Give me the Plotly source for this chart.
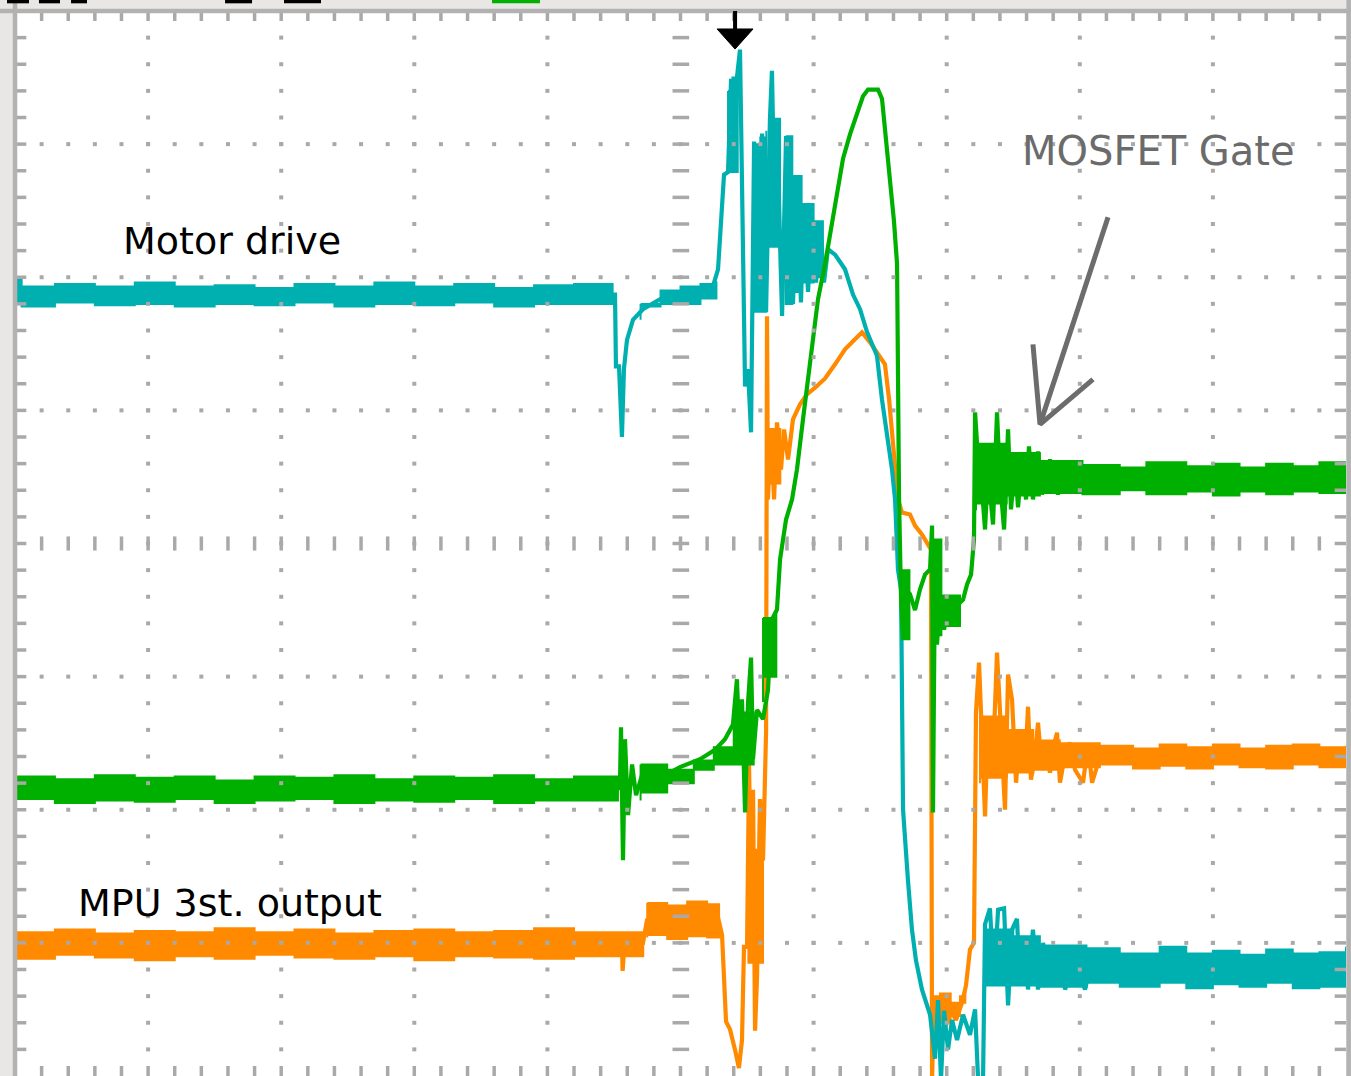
import plotly.graph_objects as go

# ---------------- data (time in divisions, voltage in divisions) ----------------
cyan_t = [0, 4.49, 4.508, 4.515, 4.538, 4.56, 4.575, 4.598, 4.643, 4.718, 4.846, 5.07, 5.237, 5.282,
          5.327, 5.357, 5.38, 5.41, 5.424, 5.447, 5.462, 5.485, 5.507, 5.53, 5.553, 5.583, 5.613,
          5.643, 5.672, 5.687, 5.703, 5.725, 5.748, 5.763, 5.793, 5.823, 5.845, 5.875, 5.905, 5.928,
          5.958, 5.988, 6.018, 6.048, 6.078, 6.108, 6.161, 6.236, 6.296, 6.349, 6.401, 6.476, 6.514,
          6.552, 6.589, 6.612, 6.634, 6.657, 6.672, 6.709, 6.739, 6.769, 6.814, 6.875, 6.912, 6.935,
          6.957, 6.98, 7.01, 7.04, 7.078, 7.123, 7.175, 7.213, 7.236, 7.273, 7.288, 7.325, 7.355,
          7.386, 7.431, 7.461, 7.491, 7.528, 7.551, 7.588, 7.611, 7.648, 7.686, 7.724, 7.776, 7.851,
          7.889, 7.964, 8.039, 8.077, 10]
cyan_v = [1.87, 1.87, 1.87, 1.33, 1.33, 0.80, 1.31, 1.53, 1.68, 1.76, 1.835, 1.87, 1.91, 2.06,
          2.77, 2.79, 3.49, 2.96, 3.50, 3.71, 2.74, 1.18, 1.31, 0.835, 3.02, 1.76, 3.08,
          1.74, 3.19, 3.55, 2.74, 3.19, 2.25, 1.71, 3.06, 2.74, 1.80, 2.74, 1.81, 2.55,
          1.89, 2.42, 1.96, 2.42, 1.96, 2.21, 2.17, 2.06, 1.87, 1.76, 1.59, 1.41, 1.08,
          0.835, 0.556, 0.331, -0.195, -0.346, -2.0, -2.53, -2.90, -3.13, -3.35, -3.54, -3.87, -3.43,
          -4.03, -3.51, -3.80, -3.58, -3.73, -3.54, -3.69, -3.50, -4.03, -4.03, -2.86, -2.74, -3.30,
          -2.75, -2.74, -3.47, -2.90, -2.82, -3.32, -3.00, -3.35, -2.90, -3.35, -3.00, -3.32, -3.02,
          -3.35, -3.13, -3.35, -3.19, -3.19]

green_t = [0, 4.53, 4.545, 4.553, 4.568, 4.583, 4.606, 4.636, 4.666, 4.711, 4.846, 4.996, 5.147,
           5.259, 5.334, 5.394, 5.424, 5.447, 5.462, 5.485, 5.507, 5.53, 5.545, 5.575, 5.62, 5.657,
           5.687, 5.725, 5.748, 5.793, 5.838, 5.875, 5.92, 5.958, 5.996, 6.033, 6.086, 6.138, 6.183,
           6.221, 6.274, 6.326, 6.371, 6.409, 6.484, 6.514, 6.536, 6.574, 6.604, 6.627, 6.642, 6.657,
           6.672, 6.694, 6.724, 6.762, 6.799, 6.837, 6.875, 6.89, 6.897, 6.912, 6.927, 6.95, 6.98,
           7.01, 7.047, 7.085, 7.123, 7.153, 7.183, 7.205, 7.213, 7.236, 7.265, 7.288, 7.31, 7.348,
           7.378, 7.40, 7.431, 7.461, 7.483, 7.513, 7.536, 7.566, 7.596, 7.618, 7.648, 7.686, 7.716,
           7.776, 7.836, 7.896, 7.964, 8.024, 10]
green_v = [-1.84, -1.84, -1.81, -1.38, -2.38, -1.47, -2.04, -1.66, -1.89, -1.74, -1.76, -1.68, -1.62,
           -1.55, -1.47, -1.36, -1.02, -1.62, -1.17, -2.02, -1.20, -0.857, -1.62, -1.25, -1.32, -1.10,
           -0.571, -0.496, -0.12, 0.18, 0.331, 0.556, 0.93, 1.23, 1.50, 1.835, 2.10, 2.40, 2.66,
           2.89, 3.075, 3.24, 3.36, 3.41, 3.41, 3.34, 3.11, 2.74, 2.42, 2.10, 0.331, -0.42,
           -0.72, -0.346, -0.38, -0.50, -0.346, -0.233, -0.195, 0.135, -2.02, -0.12, -0.76, -0.42, -0.647,
           -0.459, -0.609, -0.459, -0.421, -0.308, -0.233, 0.03, 0.985, 0.63, 0.41, 0.105, 0.556, 0.143,
           0.985, 0.481, 0.105, 0.857, 0.256, 0.594, 0.271, 0.632, 0.331, 0.729, 0.331, 0.692, 0.368,
           0.632, 0.368, 0.594, 0.406, 0.496, 0.48]

orange_t = [0, 4.55, 4.56, 4.565, 4.58, 4.718, 4.748, 4.846, 5.07, 5.282, 5.312, 5.342, 5.372, 5.409,
            5.439, 5.462, 5.477, 5.50, 5.515, 5.53, 5.545, 5.56, 5.575, 5.597, 5.62, 5.643, 5.65,
            5.657, 5.68, 5.703, 5.725, 5.755, 5.778, 5.808, 5.845, 5.898, 5.95, 6.011, 6.086, 6.161,
            6.236, 6.311, 6.364, 6.424, 6.484, 6.536, 6.567, 6.589, 6.612, 6.634, 6.664, 6.724, 6.762,
            6.814, 6.86, 6.882, 6.89, 6.905, 6.935, 6.965, 6.995, 7.025, 7.07, 7.115, 7.145, 7.175,
            7.205, 7.22, 7.243, 7.265, 7.288, 7.31, 7.348, 7.378, 7.408, 7.438, 7.461, 7.491, 7.521,
            7.551, 7.588, 7.611, 7.633, 7.663, 7.686, 7.716, 7.746, 7.776, 7.806, 7.829, 7.851, 7.896,
            7.926, 7.964, 8.024, 8.062, 8.092, 8.152, 10]
orange_v = [-3.0, -3.0, -3.0, -3.21, -3.0, -3.0, -2.83, -2.81, -2.79, -2.81, -2.94, -3.59, -3.65, -3.80,
            -3.94, -3.73, -3.03, -3.03, -1.662, -2.68, -1.85, -3.66, -3.26, -1.92, -2.38, -1.41, 1.707,
            0.331, 0.857, 0.331, 0.91, 0.556, 0.857, 0.632, 0.932, 1.045, 1.12, 1.17, 1.24, 1.346,
            1.459, 1.534, 1.586, 1.511, 1.421, 1.346, 1.083, 0.857, 0.556, 0.331, 0.233, 0.218, 0.135,
            0.068, -0.008, -0.045, -4.03, -3.43, -3.65, -3.39, -3.62, -3.50, -3.58, -3.45, -3.32, -3.05,
            -3.0, -1.27, -0.895, -1.47, -2.05, -1.32, -1.62, -0.82, -1.47, -2.0, -0.985, -1.173, -1.797,
            -1.40, -1.70, -1.226, -1.774, -1.60, -1.346, -1.70, -1.55, -1.722, -1.511, -1.421, -1.797, -1.549,
            -1.496, -1.70, -1.797, -1.511, -1.797, -1.60, -1.60]

# noise envelopes (upper / lower edge of the thick trace band), segments separated by None
cyan_band_t = [0, 0.05, 0.3, 0.6, 0.9, 1.2, 1.5, 1.8, 2.1, 2.4, 2.7, 3.0, 3.3, 3.6, 3.9, 4.2, 4.49, None,
               4.70, 4.85, 5.0, 5.15, 5.27, None,
               5.357, 5.39, 5.43, None,
               5.545, 5.60, 5.645, None,
               5.672, 5.748, None,
               5.79, 5.84, 5.91, 6.0, 6.07, None,
               7.29, 7.5, 7.7, 8.05, None,
               8.05, 8.3, 8.6, 8.8, 9.0, 9.2, 9.4, 9.6, 9.8, 10.0]
cyan_band_hi = [1.99, 1.93, 1.95, 1.93, 1.96, 1.93, 1.94, 1.92, 1.95, 1.93, 1.96, 1.93, 1.95, 1.92, 1.94, 1.95, 1.93, None,
                1.80, 1.90, 1.93, 1.95, 1.97, None,
                3.40, 3.50, 3.50, None,
                3.00, 3.05, 3.10, None,
                3.19, 3.19, None,
                3.06, 2.76, 2.55, 2.42, 2.40, None,
                -2.90, -2.95, -3.02, -3.06, None,
                -3.04, -3.08, -3.03, -3.08, -3.06, -3.09, -3.05, -3.08, -3.07, -3.03]
cyan_band_lo = [1.80, 1.80, 1.78, 1.81, 1.79, 1.80, 1.78, 1.80, 1.79, 1.81, 1.78, 1.80, 1.79, 1.81, 1.78, 1.80, 1.80, None,
                1.68, 1.78, 1.80, 1.80, 1.84, None,
                2.79, 2.79, 2.79, None,
                1.74, 1.74, 1.74, None,
                2.23, 2.23, None,
                2.19, 1.80, 1.89, 1.96, 2.00, None,
                -3.30, -3.32, -3.32, -3.33, None,
                -3.34, -3.30, -3.33, -3.30, -3.34, -3.31, -3.33, -3.30, -3.34, -3.33]

green_band_t = [0, 0.3, 0.6, 0.9, 1.2, 1.5, 1.8, 2.1, 2.4, 2.7, 3.0, 3.3, 3.6, 3.9, 4.2, 4.53, None,
                4.70, 4.9, 5.1, 5.25, 5.40, 5.55, None,
                5.62, 5.72, None,
                6.665, 6.72, None,
                6.90, 6.96, 7.10, None,
                7.22, 7.45, 7.7, 8.02, None,
                8.02, 8.3, 8.5, 8.8, 9.0, 9.2, 9.4, 9.6, 9.8, 10.0]
green_band_hi = [-1.75, -1.77, -1.74, -1.76, -1.75, -1.78, -1.75, -1.76, -1.74, -1.77, -1.75, -1.76, -1.74, -1.77, -1.75, -1.76, None,
                 -1.66, -1.70, -1.63, -1.53, -1.27, -1.27, None,
                 -0.56, -0.50, None,
                 -0.20, -0.30, None,
                 0.03, -0.39, -0.42, None,
                 0.75, 0.68, 0.62, 0.60, None,
                 0.59, 0.57, 0.61, 0.58, 0.60, 0.57, 0.60, 0.58, 0.61, 0.59]
green_band_lo = [-1.94, -1.92, -1.95, -1.93, -1.94, -1.92, -1.95, -1.93, -1.92, -1.95, -1.93, -1.94, -1.92, -1.95, -1.93, -1.93, None,
                 -1.93, -1.87, -1.80, -1.70, -1.66, -1.66, None,
                 -1.19, -1.00, None,
                 -0.72, -0.72, None,
                 -0.80, -0.69, -0.62, None,
                 0.25, 0.30, 0.36, 0.38, None,
                 0.39, 0.37, 0.40, 0.37, 0.39, 0.36, 0.39, 0.37, 0.39, 0.38]

orange_band_t = [0, 0.3, 0.6, 0.9, 1.2, 1.5, 1.8, 2.1, 2.4, 2.7, 3.0, 3.3, 3.6, 3.9, 4.2, 4.72, None,
                 4.75, 4.9, 5.05, 5.2, 5.29, None,
                 5.51, 5.62, None,
                 5.657, 5.75, None,
                 6.895, 6.95, 7.03, 7.10, 7.14, None,
                 7.25, 7.45, 7.65, 7.85, 8.15, None,
                 8.15, 8.4, 8.6, 8.8, 9.0, 9.2, 9.4, 9.6, 9.8, 10.0]
orange_band_hi = [-2.92, -2.90, -2.93, -2.91, -2.92, -2.89, -2.92, -2.90, -2.93, -2.91, -2.90, -2.92, -2.91, -2.89, -2.92, -2.92, None,
                  -2.70, -2.72, -2.69, -2.71, -2.72, None,
                  -2.30, -2.30, None,
                  0.86, 0.86, None,
                  -3.40, -3.38, -3.45, -3.40, -3.30, None,
                  -1.30, -1.40, -1.48, -1.50, -1.53, None,
                  -1.52, -1.54, -1.51, -1.53, -1.51, -1.54, -1.52, -1.51, -1.53, -1.52]
orange_band_lo = [-3.10, -3.12, -3.09, -3.11, -3.13, -3.10, -3.12, -3.09, -3.11, -3.12, -3.10, -3.13, -3.10, -3.11, -3.12, -3.10, None,
                  -2.96, -2.94, -2.97, -2.95, -2.96, None,
                  -3.15, -3.15, None,
                  0.33, 0.45, None,
                  -3.70, -3.66, -3.60, -3.55, -3.45, None,
                  -1.80, -1.76, -1.72, -1.70, -1.68, None,
                  -1.68, -1.66, -1.69, -1.67, -1.69, -1.66, -1.68, -1.69, -1.66, -1.68]

# channel ground markers, trigger position, labels
marker_levels = {"green": -2.04, "orange": -3.0}
trigger_t = 5.41
arrow_t = [8.212, 7.701, None, 7.648, 7.701, 8.099]
arrow_v = [2.451, 0.895, None, 1.496, 0.895, 1.233]
labels = ["Motor drive", "MPU 3st. output", "MOSFET Gate"]
label_t = [0.80, 0.46, 7.55]
label_v = [2.27, -2.70, 2.95]

CYAN = "#00b0b0"
GREEN = "#00b000"
ORANGE = "#ff8a00"
GRID = "#a9a9a9"
LABEL_FONT = "DejaVu Sans ExtraLight, DejaVu Sans, sans-serif"


def band_polygon(t, hi, lo):
    xs, ys = [], []
    st, sh, sl = [], [], []
    for a, b, c in zip(list(t) + [None], list(hi) + [None], list(lo) + [None]):
        if a is None:
            if st:
                xs += st + st[::-1] + [st[0], None]
                ys += sh + sl[::-1] + [sh[0], None]
            st, sh, sl = [], [], []
        else:
            st.append(a); sh.append(b); sl.append(c)
    return xs, ys


fig = go.Figure()

channels = [
    (orange_t, orange_v, orange_band_t, orange_band_hi, orange_band_lo, ORANGE),
    (cyan_t, cyan_v, cyan_band_t, cyan_band_hi, cyan_band_lo, CYAN),
    (green_t, green_v, green_band_t, green_band_hi, green_band_lo, GREEN),
]
for t, v, bt, bh, bl, col in channels:
    px, py = band_polygon(bt, bh, bl)
    fig.add_trace(go.Scatter(x=px, y=py, mode="lines", fill="toself", fillcolor=col,
                             line=dict(color=col, width=2, shape="hv"), hoverinfo="skip"))
    fig.add_trace(go.Scatter(x=t, y=v, mode="lines", line=dict(color=col, width=4.2),
                             hoverinfo="skip"))

# ---------------- graticule (drawn over the traces, like the scope) ----------------
step = 0.2
dots_x, dots_y = [], []
for gx in [1, 2, 3, 4, 6, 7, 8, 9]:
    for k in range(1, 40):
        dots_x.append(gx); dots_y.append(-4 + step * k)
for gy in [-3, -2, -1, 1, 2, 3]:
    for k in range(1, 50):
        dots_x.append(step * k); dots_y.append(gy)
fig.add_trace(go.Scatter(x=dots_x, y=dots_y, mode="markers",
                         marker=dict(symbol="square", size=4, color=GRID, line=dict(width=0)),
                         hoverinfo="skip"))

tk_x, tk_y = [], []
for k in range(1, 50):  # ticks on horizontal centre line, top and bottom edge
    x = step * k
    tk_x += [x, x, None]; tk_y += [-0.053, 0.053, None]
    tk_x += [x, x, None]; tk_y += [4.0, 3.925, None]
    tk_x += [x, x, None]; tk_y += [-4.0, -3.925, None]
for k in range(1, 40):  # ticks on vertical centre line, left and right edge
    y = -4 + step * k
    tk_x += [4.94, 5.065, None]; tk_y += [y, y, None]
    tk_x += [0.0, 0.085, None]; tk_y += [y, y, None]
    tk_x += [9.915, 10.0, None]; tk_y += [y, y, None]
fig.add_trace(go.Scatter(x=tk_x, y=tk_y, mode="lines", line=dict(color=GRID, width=3.5),
                         hoverinfo="skip"))

# channel markers at the left edge
fig.add_trace(go.Scatter(x=[-0.07, -0.07], y=[marker_levels["green"], marker_levels["orange"]],
                         mode="markers", cliponaxis=False,
                         marker=dict(symbol="triangle-right", size=13, color=[GREEN, ORANGE]),
                         hoverinfo="skip"))

# MOSFET gate pointer (hand drawn arrow)
fig.add_trace(go.Scatter(x=arrow_t, y=arrow_v, mode="lines",
                         line=dict(color="#6c6c6c", width=5), hoverinfo="skip"))

shapes = []
# frame
for x0, y0, x1, y1 in [(0, 0, 0, 1.012), (-0.012, 1, 1.004, 1), (1.002, 0, 1.002, 1.012)]:
    shapes.append(dict(type="line", xref="paper", yref="paper", x0=x0, y0=y0, x1=x1, y1=y1,
                       line=dict(color="#b2b2b2", width=4.5)))
# trigger marker
shapes.append(dict(type="line", xref="x", yref="y", x0=trigger_t, x1=trigger_t, y0=4.0, y1=3.84,
                   line=dict(color="black", width=4)))
shapes.append(dict(type="path", xref="x", yref="y",
                   path=f"M {trigger_t-0.135},3.865 L {trigger_t+0.135},3.865 L {trigger_t},3.714 Z",
                   fillcolor="black", line=dict(color="black", width=1)))
# clipped header fragments at the very top
for x0, x1, col in [(-0.006, 0.0105, "black"), (0.018, 0.0338, "black"), (0.0421, 0.0541, "black"),
                    (0.1578, 0.1781, "black"), (0.2021, 0.2299, "black"), (0.3584, 0.3944, GREEN)]:
    shapes.append(dict(type="rect", xref="paper", yref="paper", x0=x0, x1=x1, y0=1.0072, y1=1.011,
                       fillcolor=col, line=dict(width=0)))

annotations = []
for txt, tx, ty, col, sz in zip(labels, label_t, label_v, ["black", "black", "#6b6b6b"], [38, 38, 40]):
    annotations.append(dict(x=tx, y=ty, xref="x", yref="y", text=txt, showarrow=False,
                            xanchor="left", yanchor="middle",
                            font=dict(family=LABEL_FONT, size=sz, color=col)))

fig.update_layout(
    width=1351, height=1076,
    margin=dict(l=15, r=5, t=11, b=0, pad=0),
    paper_bgcolor="#e9e7e6", plot_bgcolor="white",
    showlegend=False,
    xaxis=dict(range=[0, 10], visible=False, fixedrange=True),
    yaxis=dict(range=[-4, 4], visible=False, fixedrange=True),
    shapes=shapes, annotations=annotations,
)

fig.write_html("out.html", config={"displayModeBar": False},
               post_script="document.body.style.margin='0';document.body.style.overflow='hidden';")
